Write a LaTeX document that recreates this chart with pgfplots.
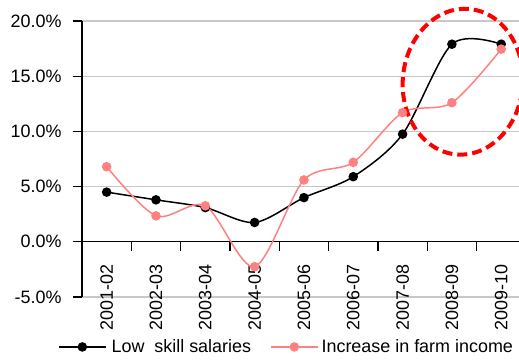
\documentclass[border=0pt]{standalone}
\usepackage{fontspec}
\setmainfont{Liberation Sans}
\usepackage{pgfplots}
\pgfplotsset{compat=1.18}
\definecolor{farmpink}{RGB}{255,128,128}
\definecolor{gridgray}{RGB}{200,200,200}

\begin{document}
\begin{tikzpicture}[font=\fontsize{18}{21}\selectfont]
\useasboundingbox (0,0) rectangle (519bp,362bp);
\begin{axis}[
  at={(82bp,65bp)}, anchor=south west,
  scale only axis, width=437bp, height=276bp,
  xmin=-0.5, xmax=8.36, ymin=-5, ymax=20,
  axis x line=middle, axis y line=left,
  axis line style={-, black, line width=1.3bp},
  hide obscured x ticks=false, hide obscured y ticks=false,
  tick align=outside,
  major tick length=9bp,
  tick style={black, line width=1.3bp},
  xtick={0.5,1.5,...,7.5}, xticklabels={},
  extra x ticks={0,1,2,3,4,5,6,7,8},
  extra x tick labels={2001-02,2002-03,2003-04,2004-05,2005-06,2006-07,2007-08,2008-09,2009-10},
  extra x tick style={major tick length=0pt},
  xticklabel style={rotate=90, anchor=east},
  xticklabel shift=19bp,
  ytick={-5,0,5,10,15,20},
  yticklabels={-5.0\%,0.0\%,5.0\%,10.0\%,15.0\%,20.0\%},
  yticklabel shift=8bp,
  ymajorgrids, grid style={gridgray, line width=1.2bp},
  tick label style={font=\fontsize{18}{21}\selectfont},
  clip=false,
  legend columns=2,
  legend style={at={(axis description cs:0.468,-0.181)}, anchor=center,
    draw=none, fill=none, font=\fontsize{18}{21}\selectfont,
    /tikz/column 1/.style={column sep=3bp},
    /tikz/column 2/.style={column sep=17bp},
    /tikz/column 3/.style={column sep=1bp}},
  legend image code/.code={\draw[mark repeat=2, mark phase=2]
    plot coordinates {(0bp,0bp) (23.5bp,0bp) (47bp,0bp)};},
]
% low skill salaries
\addplot[black, line width=1.5bp, smooth, mark=*, mark size=4bp,
  mark options={fill=black, draw=black}]
  coordinates {(0,4.5) (1,3.8) (2,3.1) (3,1.75) (4,4.0) (5,5.9) (6,9.75) (7,17.9) (8,17.9)};
\addlegendentry{Low\ \ skill salaries}
% increase in farm income
\addplot[farmpink, line width=1.5bp, smooth, mark=*, mark size=4bp,
  mark options={fill=farmpink, draw=farmpink}]
  coordinates {(0,6.8) (1,2.35) (2,3.26) (3,-2.26) (4,5.6) (5,7.2) (6,11.7) (7,12.6) (8,17.45)};
\addlegendentry{Increase in farm income}
% highlight of the last two years
\draw[red, line width=4bp, dash pattern=on 10bp off 5bp, rotate around={-5:(axis cs:7.22,14.5)}]
  (axis cs:7.22,14.5) ellipse [x radius=60bp, y radius=73bp];
\end{axis}
\end{tikzpicture}
\end{document}
